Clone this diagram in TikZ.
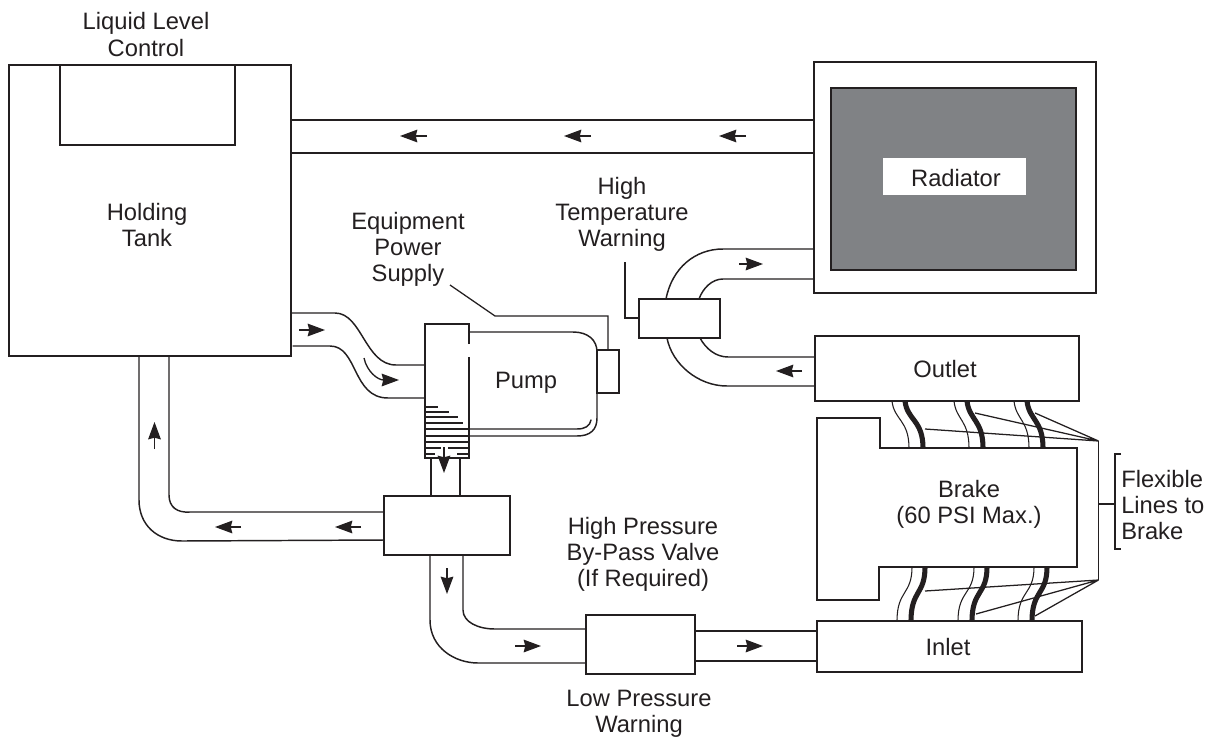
\documentclass[tikz,border=0pt]{standalone}
\usepackage{fontspec}
\setmainfont{Liberation Sans}
\usetikzlibrary{arrows.meta,fit}
\definecolor{ink}{HTML}{231F20}
\definecolor{radgray}{HTML}{808285}
\tikzset{
  line/.style={draw=ink,line width=1.1pt},
  pipe/.style={line,line cap=round},
  thinline/.style={draw=ink,line width=0.85pt},
  boxshape/.style={line,fit={#1},inner sep=0pt,outer sep=0pt},
  flow/.style={draw=ink,line width=1pt,-{Stealth[length=13pt,width=9.5pt,inset=1.2pt]}},
  lbl/.style={font=\fontsize{17.8}{19.6}\selectfont,text=ink,align=center,inner sep=0pt},
  flexthick/.style={draw=ink,line width=3.8pt},
  flexthin/.style={draw=ink,line width=0.8pt},
  lead/.style={draw=ink,line width=0.95pt},
}
\begin{document}
\begin{tikzpicture}[x=0.75pt,y=-0.75pt]
\useasboundingbox (0,0) rectangle (1220,739);
\node[boxshape={(9,65)(291,356)}] (tank) {};
\node[boxshape={(60,65)(235,145)}] (level) {};
\node[boxshape={(814,62)(1096,293)}] (radouter) {};
\node[boxshape={(831,88)(1076,270)},fill=radgray] (radinner) {};
\node[fit={(883,158)(1026,195)},fill=white,inner sep=0pt,outer sep=0pt] (radplate) {};
\node[lbl] (radlabel) at (956,178) {Radiator};
\node[boxshape={(639,299)(720,338)}] (hightemp) {};
\node[boxshape={(815,336)(1079,401)}] (outlet) {};
\node[boxshape={(817,621)(1082,672)}] (inlet) {};
\node[boxshape={(384,496)(510,555)}] (bypass) {};
\node[boxshape={(586,615)(695,674)}] (lowp) {};
\node[boxshape={(597,350)(619,393)}] (motor) {};
% top return
\draw[pipe] (tank.east |- 0,120) -- (radouter.west |- 0,120);
\draw[pipe] (tank.east |- 0,153) -- (radouter.west |- 0,153);
\draw[flow] (427,136) -- (400,136);
\draw[flow] (591,136) -- (564,136);
\draw[flow] (746,136) -- (719,136);
% tank to pump
\draw[pipe] (tank.east |- 0,313) -- (335,313) .. controls (362,313) and (365,365) .. (396,365) -- (424,365);
\draw[pipe] (293,346) -- (330,346) .. controls (358,346) and (352,398) .. (388,398) -- (424,398);
\draw[flow] (299,330) -- (325,330);
\draw[flow] (364,358) .. controls (367,372) and (378,380) .. (399,380);
% pump block with gap on its right side
\draw[line] (469,344) -- (469,324) -- (425,324) -- (425,458) -- (469,458) -- (469,357);
% pump body
\draw[pipe] (469,332) -- (573,332) .. controls (588,332) and (597,340) .. (597,352) -- (597,418) .. controls (597,430) and (590,436) .. (577,436) -- (469,436);
\draw[pipe] (469,429) -- (577,429) .. controls (585,429) and (590,426) .. (591,420);
% hatching
\foreach \yy/\xx in {407/438,412/449,417/458,423/463,429/469,436/469,442/469}
  \draw[thinline] (425,\yy) -- (\xx,\yy);
\draw[thinline] (425,448) -- (441,448) (448,448) -- (469,448);
\draw[thinline] (425,454) -- (435,454) (457,454) -- (469,454);
\draw[flow] (444,447) -- (444,473);
% neck
\draw[pipe] (431,458) -- (431,0 |- bypass.north);
\draw[pipe] (460,458) -- (460,0 |- bypass.north);
% left return
\draw[pipe] (139,356) -- (139,500) .. controls (139,525) and (157,541) .. (182,541) -- (bypass.west |- 0,540);
\draw[pipe] (169,356) -- (169,495) .. controls (169,507) and (177,513) .. (190,512) -- (bypass.west |- 0,512);
\draw[flow] (154.5,449) -- (154.5,422);
\draw[flow] (241,527) -- (215,527);
\draw[flow] (361,527) -- (335,527);
% lower feed
\draw[pipe] (430,555) -- (430,620) .. controls (430,648) and (455,663) .. (478,663) -- (lowp.west |- 0,663);
\draw[pipe] (463,555) -- (463,610) .. controls (463,622) and (478,629) .. (495,629) -- (lowp.west |- 0,629);
\draw[flow] (447,568) -- (447,594);
\draw[flow] (515,646) -- (541,646);
\draw[pipe] (lowp.east |- 0,631) -- (inlet.west |- 0,631);
\draw[pipe] (lowp.east |- 0,661) -- (inlet.west |- 0,661);
\draw[flow] (737,646) -- (763,646);
% radiator loop
\draw[pipe] (666,299) .. controls (672,268) and (695,249) .. (723,249) -- (radouter.west |- 0,249);
\draw[pipe] (699,299) .. controls (703,288) and (712,279) .. (723,279) -- (radouter.west |- 0,279);
\draw[pipe] (700,338) .. controls (706,349) and (716,357) .. (728,357) -- (outlet.west |- 0,357);
\draw[pipe] (667,338) .. controls (672,364) and (698,386) .. (727,386) -- (outlet.west |- 0,386);
\draw[flow] (739,264) -- (763,264);
\draw[flow] (802,371) -- (776,371);
% leaders
\draw[lead] (625,262) -- (625,318) -- (hightemp.west |- 0,318);
\draw[lead] (450,285) -- (495,316) -- (608,316) -- (motor.north -| 608,0);
% brake
\draw[line,line join=miter] (817,418) -- (880,418) -- (880,448) -- (1077,448) -- (1077,567) -- (879,567) -- (879,600) -- (817,600) -- cycle;
% flexible lines top
\foreach \tx/\bx in {905/923,967/983,1027/1043}{
  \draw[flexthick] (\tx,401) .. controls (\tx+2,420) and (\bx,420) .. (\bx,448);
  \draw[flexthin] (\tx-13,401) .. controls (\tx-11,420) and (\bx-14,420) .. (\bx-14,448);
}
% flexible lines bottom
\foreach \tx/\bx in {925/911,987/972,1047/1032}{
  \draw[flexthick] (\tx,567) .. controls (\tx,595) and (\bx,590) .. (\bx,621);
  \draw[flexthin] (\tx-13,567) .. controls (\tx-13,595) and (\bx-14,590) .. (\bx-14,621);
}
\coordinate (apexT) at (1098.5,441);
\coordinate (apexB) at (1098.5,580);
\coordinate (brkt) at (1115,504);
\draw[lead] (apexT) -- (apexB);
\draw[lead] (925,429) -- (apexT) (975,413) -- (apexT) (1035,413) -- (apexT);
\draw[lead] (925,591) -- (apexB) (976,614) -- (apexB) (1035,616) -- (apexB);
\draw[lead] (1098.5,504) -- (brkt);
\draw[lead] (1121,454) -- (1115,454) -- (1115,549) -- (1121,549);
% labels
\node[lbl] (t1) at (146,34.5) {Liquid Level\\Control};
\node[lbl] (t2) at (147,225) {Holding\\Tank};
\node[lbl] (t3) at (408,249) {Equipment\\Power\\Supply};
\node[lbl] (t4) at (622,214) {High\\Temperature\\Warning};
\node[lbl] (t5) at (526,383) {Pump};
\node[lbl] (t6) at (945,369) {Outlet};
\node[lbl] (t7) at (969,504.5) {Brake\\(60 PSI Max.)};
\node[lbl] (t8) at (643,554) {High Pressure\\By-Pass Valve\\(If Required)};
\node[lbl] (t9) at (639,714) {Low Pressure\\Warning};
\node[lbl] (t10) at (948,647) {Inlet};
\node[lbl,align=left,anchor=west] (t11) at (1121,505) {Flexible\\Lines to\\Brake};
\end{tikzpicture}
\end{document}
